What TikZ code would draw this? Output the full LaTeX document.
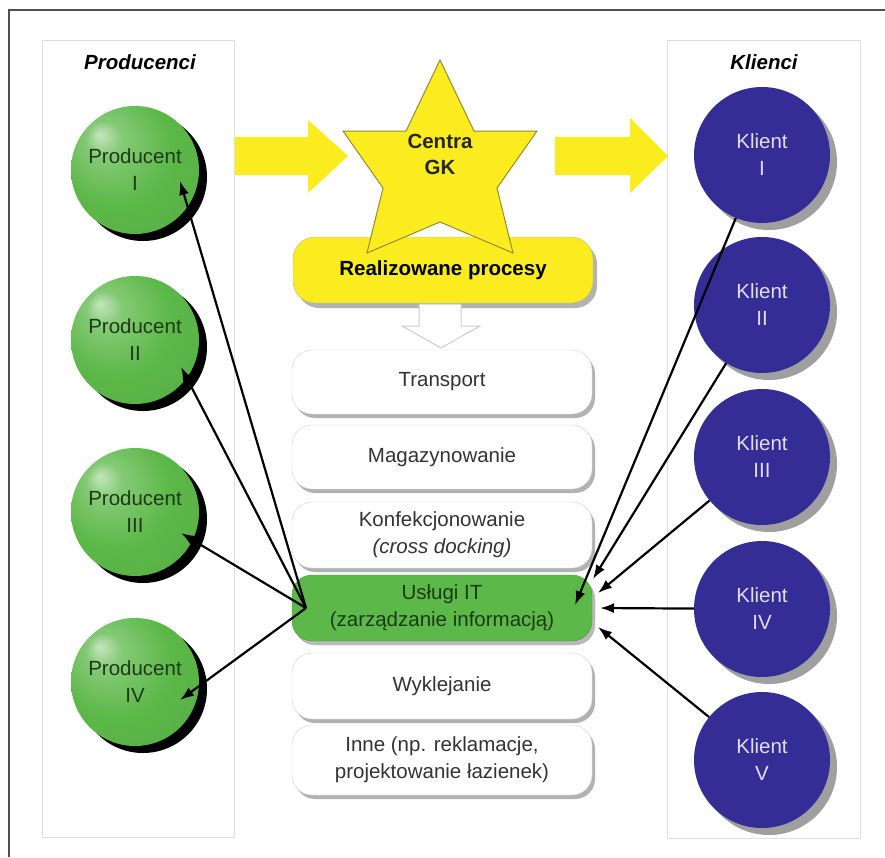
\documentclass[tikz,border=0pt]{standalone}
\usepackage{fontspec}
\setmainfont{Liberation Sans}
\usetikzlibrary{shapes.geometric,shadows,arrows.meta,calc}
\definecolor{pgreen}{RGB}{92,184,72}
\definecolor{kblue}{RGB}{52,45,150}
\definecolor{ayellow}{RGB}{250,236,30}
\definecolor{ktext}{RGB}{222,222,242}
\definecolor{ptext}{RGB}{28,58,22}
\definecolor{framecol}{RGB}{80,80,80}
\definecolor{panelcol}{RGB}{222,222,222}
\definecolor{staredge}{RGB}{150,140,50}
\pgfdeclareradialshading{greenball}{\pgfpoint{-14bp}{14bp}}{color(0bp)=(pgreen!35!white); color(7bp)=(pgreen!75!white); color(22bp)=(pgreen); color(40bp)=(pgreen!94!black); color(50bp)=(pgreen!88!black)}
\tikzset{
  txt/.style={font=\fontsize{20.5}{27}\selectfont},
  prod/.style={circle, minimum size=128pt, inner sep=0pt, shade, shading=greenball,
    drop shadow={shadow xshift=8pt, shadow yshift=-7pt, fill=black, opacity=1},
    text=ptext, align=center, txt},
  klient/.style={circle, minimum size=136pt, inner sep=0pt, fill=kblue,
    drop shadow={shadow xshift=7pt, shadow yshift=-7pt, fill=gray!75, opacity=1},
    text=ktext, align=center, txt},
  proc/.style={rounded corners=20pt, minimum width=300pt, minimum height=64pt, draw=gray!35, fill=white,
    drop shadow={shadow xshift=3pt, shadow yshift=-4pt, fill=gray!60, opacity=1},
    align=center, txt, text=black!80},
  panelbox/.style={draw=panelcol, line width=1pt, fill=white},
  conn/.style={draw=black, line width=2.2pt, -{Latex[length=14pt,width=10pt]}},
  bigarrow/.style={fill=ayellow, draw=none},
}
\begin{document}
\begin{tikzpicture}[x=1pt,y=-1pt]
\useasboundingbox (0,0) rectangle (885,857);
\fill[white] (0,0) rectangle (885,857);
% frame
\draw[framecol, line width=1.5pt] (9,857) -- (9,10) -- (885,10);
% panels
\draw[panelbox] (42,40) rectangle (234,837);
\draw[panelbox] (667,40) rectangle (860,838);
\node[txt, font=\fontsize{20.5}{27}\selectfont\bfseries\itshape] (tprod) at (140,62) {Producenci};
\node[txt, font=\fontsize{20.5}{27}\selectfont\bfseries\itshape] (tkl) at (764,62) {Klienci};
% yellow arrows
\draw[bigarrow] (235,137) -- (308,137) -- (308,120) -- (348,156) -- (308,193) -- (308,175) -- (235,175) -- cycle;
\draw[bigarrow] (555,137) -- (630,137) -- (630,118) -- (668,156) -- (630,193) -- (630,175) -- (555,175) -- cycle;
% Realizowane procesy
\node[rounded corners=22pt, minimum width=300pt, minimum height=66pt, fill=ayellow, draw=staredge!60,
  drop shadow={shadow xshift=4pt, shadow yshift=-5pt, fill=gray!60, opacity=1},
  txt, font=\fontsize{20.5}{27}\selectfont\bfseries] (real) at (443,270) {Realizowane procesy};
% star
\draw[fill=ayellow, draw=staredge, line width=1pt, line join=miter]
  (440,60) -- (474,131) -- (537,131) -- (497,188) -- (513,253) -- (440,222)
  -- (367,253) -- (383,188) -- (343,131) -- (406,131) -- cycle;
\node[txt, font=\fontsize{20.5}{26}\selectfont\bfseries, align=center, text=black!85] (star) at (440,154) {Centra\\GK};
% hollow arrow
\draw[fill=white, draw=gray!40, line width=1pt] (419,304) -- (461,304) -- (461,326) -- (480,326) -- (441,348) -- (402,326) -- (419,326) -- cycle;
% process boxes
\node[proc] (transport) at (442,382) {Transport};
\node[proc] (mag) at (442,457) {Magazynowanie};
\node[proc, minimum height=66pt] (konf) at (442,535) {Konfekcjonowanie\\\textit{(cross docking)}};
\node[proc, fill=pgreen, draw=pgreen!85!black, text=ptext, minimum height=66pt,
  drop shadow={shadow xshift=3pt, shadow yshift=-4pt, fill=gray!55, opacity=1}] (it) at (442,608) {Usługi IT\\(zarządzanie informacją)};
\node[proc, minimum height=66pt] (wykl) at (442,686) {Wyklejanie};
\node[proc, minimum height=70pt] (inne) at (442,760) {Inne (np. reklamacje,\\projektowanie łazienek)};
% producers
\node[prod] (p1) at (135,170) {Producent\\I};
\node[prod] (p2) at (135,340) {Producent\\II};
\node[prod] (p3) at (135,512) {Producent\\III};
\node[prod] (p4) at (135,682) {Producent\\IV};
% clients
\node[klient] (k1) at (762,155) {Klient\\I};
\node[klient] (k2) at (762,305) {Klient\\II};
\node[klient] (k3) at (762,457) {Klient\\III};
\node[klient] (k4) at (762,609) {Klient\\IV};
\node[klient] (k5) at (762,760) {Klient\\V};
% connector coordinates
\coordinate (uL) at (306,608);
\coordinate (p1t) at (180,181);
\coordinate (p2t) at (181,367);
\coordinate (p3t) at (181,533);
\coordinate (p4t) at (180,700);
\coordinate (k1t) at (575,605);
\coordinate (k2t) at (593,579);
\coordinate (k3t) at (598,593);
\coordinate (k4t) at (600,608);
\coordinate (k5t) at (598,627);
\draw[conn] (uL) -- (p1t);
\draw[conn] (uL) -- (p2t);
\draw[conn] (uL) -- (p3t);
\draw[conn] (uL) -- (p4t);
\draw[conn] (k1) -- (k1t);
\draw[conn] (k2) -- (k2t);
\draw[conn] (k3) -- (k3t);
\draw[conn] (k4) -- (k4t);
\draw[conn] (k5) -- (k5t);
\end{tikzpicture}
\end{document}
